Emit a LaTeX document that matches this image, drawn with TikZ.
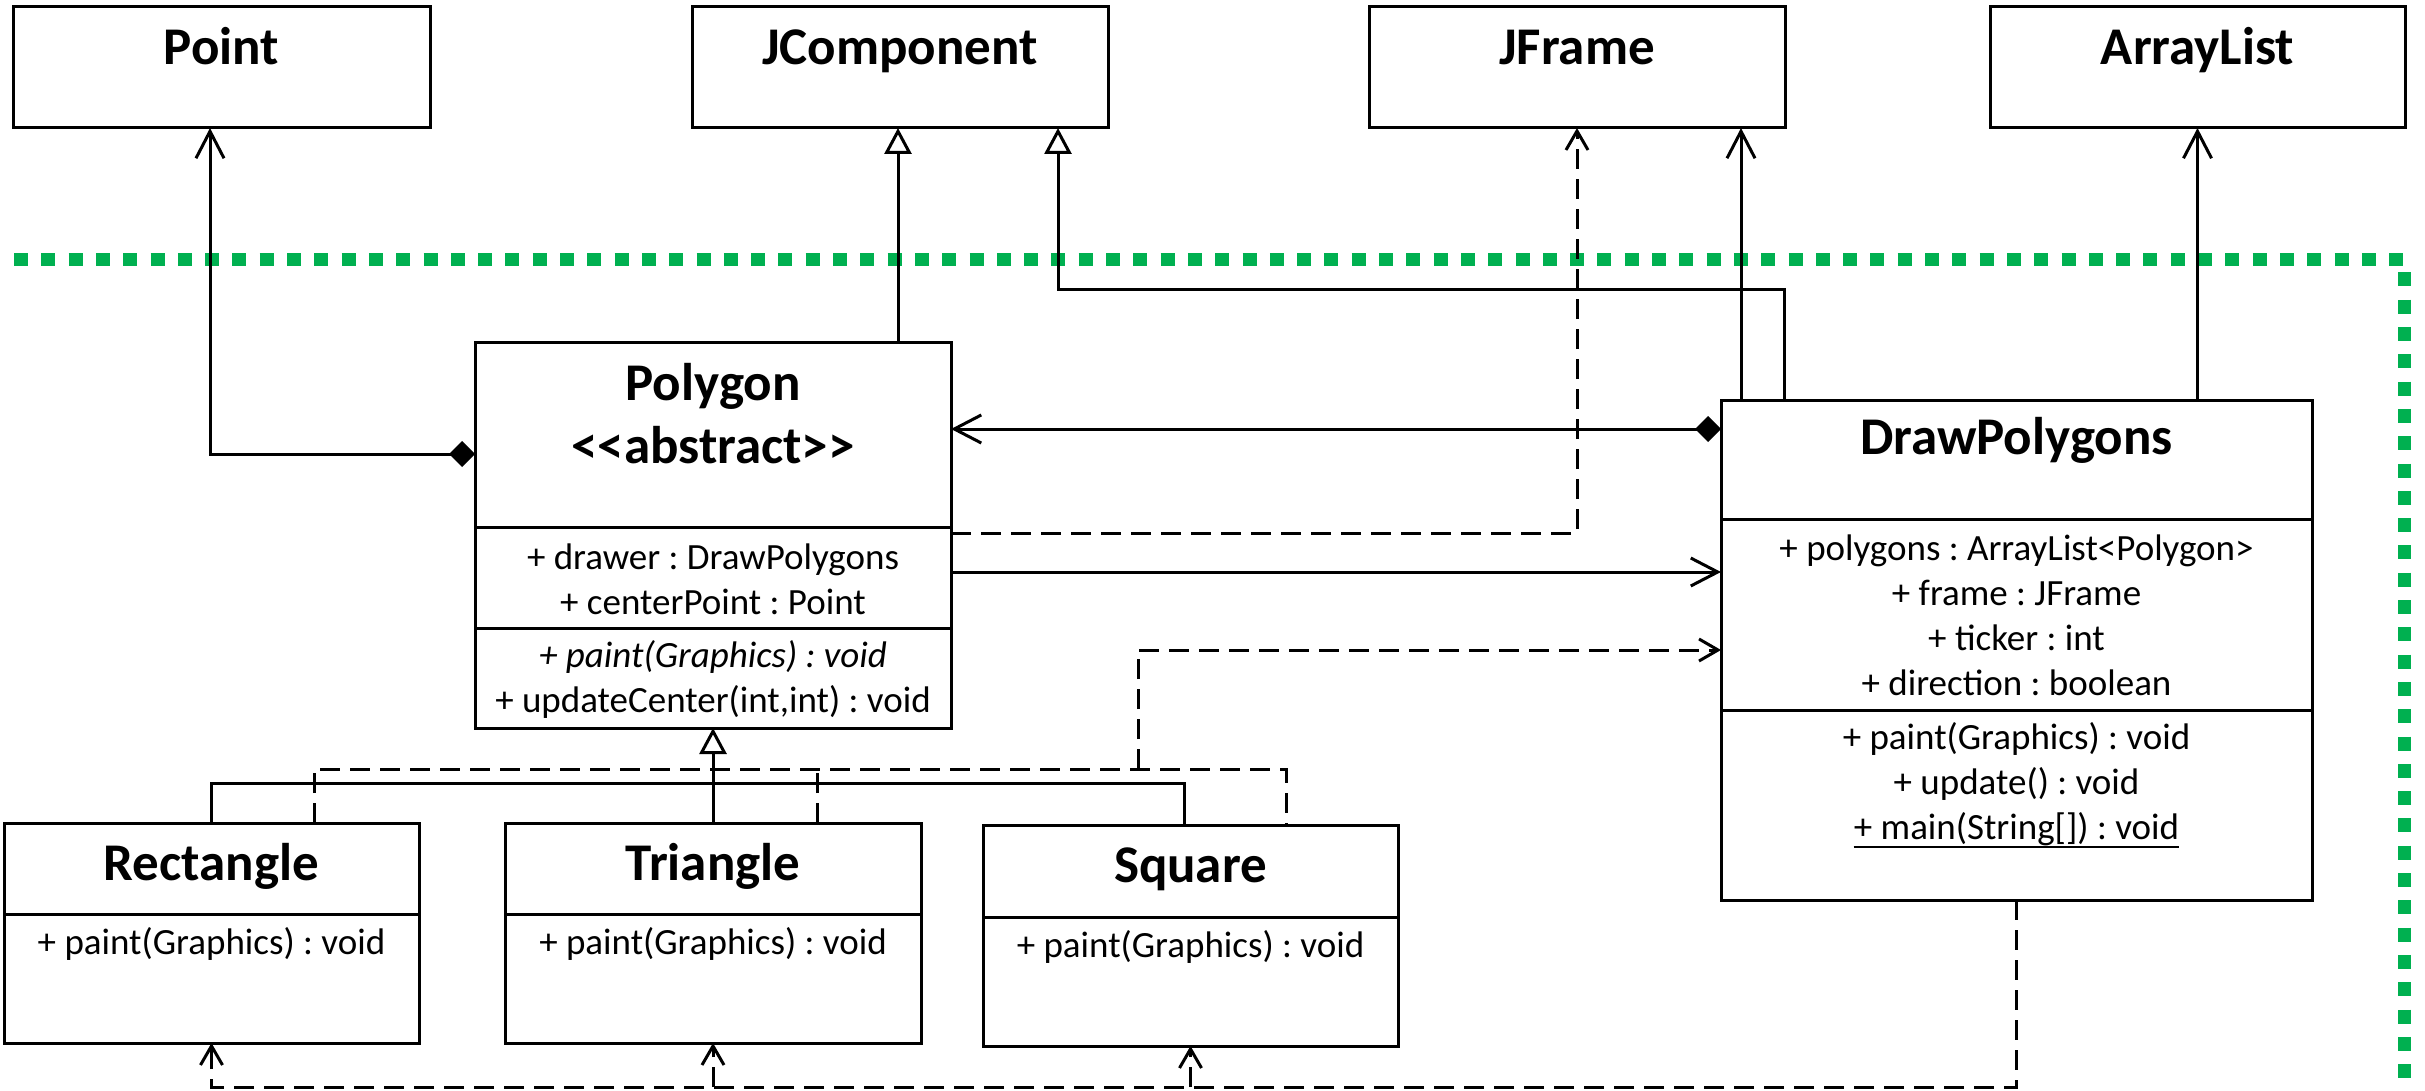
\documentclass[tikz,border=0pt]{standalone}
\usepackage{fontspec}
\setmainfont{Carlito}
\usetikzlibrary{arrows.meta}
\definecolor{grn}{HTML}{00B050}
\newcommand\ttlfont{\fontsize{53}{64}\selectfont\bfseries}
\newcommand\attfont{\fontsize{37}{45}\selectfont}
\frenchspacing
\begin{document}
\begin{tikzpicture}[x=1pt,y=-1pt,
 box/.style={draw, line width=3pt, anchor=north west, inner sep=0pt, outer sep=0pt},
 ttl/.style={anchor=base, inner sep=0pt, font=\ttlfont},
 att/.style={anchor=base, inner sep=0pt, font=\attfont},
 conn/.style={line width=3pt},
 sepline/.style={line width=3pt},
 dep/.style={line width=3pt, dash pattern=on 20pt off 10pt},
 ar/.style={-{Straight Barb[length=27pt,width=28pt]}},
 dar/.style={-{Straight Barb[length=19pt,width=22pt]}},
 genar/.style={-{Triangle[fill=white,length=26pt,width=27pt]}},
 comparr/.style={{Diamond[length=26pt,width=26pt]}-{Straight Barb[length=27pt,width=28pt]}}
]
\useasboundingbox (0,0) rectangle (2425,1091);

% package boundary
\coordinate (g1) at (14,260);
\coordinate (g2) at (2404,260);
\coordinate (g3) at (2404,1085);
\draw[grn, line width=13pt, dash pattern=on 14pt off 13.3pt] (g1) -- (g2) -- (g3);

% boxes
\node[box, minimum width=417pt, minimum height=121pt] (point) at (13,7) {};
\node[box, minimum width=416pt, minimum height=121pt] (jcomp) at (692,7) {};
\node[box, minimum width=416pt, minimum height=121pt] (jframe) at (1369,7) {};
\node[box, minimum width=415pt, minimum height=121pt] (alist) at (1990,7) {};
\node[box, minimum width=476pt, minimum height=386pt] (poly) at (475,342) {};
\node[box, minimum width=591pt, minimum height=500pt] (dp) at (1721,400) {};
\node[box, minimum width=415pt, minimum height=220pt] (rect) at (4,823) {};
\node[box, minimum width=416pt, minimum height=220pt] (tri) at (505,823) {};
\node[box, minimum width=415pt, minimum height=221pt] (sq) at (983,825) {};

% separators
\draw[sepline] ([yshift=-185pt]poly.north west) -- ([yshift=-185pt]poly.north east);
\draw[sepline] ([yshift=-286pt]poly.north west) -- ([yshift=-286pt]poly.north east);
\draw[sepline] ([yshift=-119pt]dp.north west) -- ([yshift=-119pt]dp.north east);
\draw[sepline] ([yshift=-310pt]dp.north west) -- ([yshift=-310pt]dp.north east);
\draw[sepline] ([yshift=-91pt]rect.north west) -- ([yshift=-91pt]rect.north east);
\draw[sepline] ([yshift=-91pt]tri.north west) -- ([yshift=-91pt]tri.north east);
\draw[sepline] ([yshift=-92pt]sq.north west) -- ([yshift=-92pt]sq.north east);

% texts
\node[ttl] (pointT) at (221.5,65) {Point};
\node[ttl] (jcompT) at (900,65) {JComponent};
\node[ttl] (jframeT) at (1577,65) {JFrame};
\node[ttl] (alistT) at (2197.5,65) {ArrayList};

\node[ttl] (polyT1) at (713,400) {Polygon};
\node[ttl] (polyT2) at (713,463) {<\kern0pt<abstract>\kern0pt>};
\node[att] (polyA1) at (713,569) {+ drawer : DrawPolygons};
\node[att] (polyA2) at (713,614) {+ centerPoint : Point};
\node[att] (polyM1) at (713,667) {\itshape + paint(Graphics) : void};
\node[att] (polyM2) at (713,712) {+ updateCenter(int,int) : void};

\node[ttl] (dpT) at (2016.5,454) {DrawPolygons};
\node[att] (dpA1) at (2016.5,560) {+ polygons : ArrayList<Polygon>};
\node[att] (dpA2) at (2016.5,605) {+ frame : JFrame};
\node[att] (dpA3) at (2016.5,650) {+ ticker : int};
\node[att] (dpA4) at (2016.5,695) {+ direction : boolean};
\node[att] (dpM1) at (2016.5,749) {+ paint(Graphics) : void};
\node[att] (dpM2) at (2016.5,794) {+ update() : void};
\node[att] (dpM3) at (2016.5,839) {+ main(String[]) : void};
\draw[line width=2.5pt] ([yshift=-8pt]dpM3.base west) -- ([yshift=-8pt]dpM3.base east);

\node[ttl] (rectT) at (211.5,880) {Rectangle};
\node[att] (rectM) at (211.5,954) {+ paint(Graphics) : void};
\node[ttl] (triT) at (713,880) {Triangle};
\node[att] (triM) at (713,954) {+ paint(Graphics) : void};
\node[ttl] (sqT) at (1190.5,882) {Square};
\node[att] (sqM) at (1190.5,957) {+ paint(Graphics) : void};

% Polygon -- Point (composition)
\coordinate (cPt) at (210,454);
\draw[conn, comparr] (poly.west |- cPt) -- (cPt) -- (cPt |- point.south);

% Polygon -> JComponent
\coordinate (cJ1) at (898,0);
\draw[conn, genar] (poly.north -| cJ1) -- (jcomp.south -| cJ1);

% DrawPolygons -> JComponent
\coordinate (cJ2) at (1058,290);
\coordinate (cJ3) at (1784,290);
\draw[conn, genar] (dp.north -| cJ3) -- (cJ3) -- (cJ2) -- (jcomp.south -| cJ2);

% Polygon ..> JFrame
\coordinate (cF1) at (1577,533);
\draw[dep, dar] (poly.east |- cF1) -- (cF1) -- (cF1 |- jframe.south);

% DrawPolygons -> JFrame
\coordinate (cF2) at (1741,0);
\draw[conn, ar] (dp.north -| cF2) -- (jframe.south -| cF2);

% DrawPolygons -> ArrayList
\draw[conn, ar] (dp.north -| alist.south) -- (alist.south);

% DrawPolygons <>-> Polygon
\coordinate (cA) at (0,429);
\draw[conn, comparr] (dp.west |- cA) -- (poly.east |- cA);

% Polygon -> DrawPolygons
\coordinate (cB) at (0,572);
\draw[conn, ar] (poly.east |- cB) -- (dp.west |- cB);

% generalization
\coordinate (cG) at (0,783);
\coordinate (cSq) at (1184,0);
\draw[conn] (rect.north) |- (cG -| cSq) -- (sq.north -| cSq);
\draw[conn, genar] (tri.north) -- (poly.south);

% subclasses ..> DrawPolygons
\coordinate (cD) at (1138,769);
\coordinate (cR) at (314,0);
\coordinate (cT) at (817,0);
\coordinate (cS) at (1286,0);
\coordinate (cE) at (0,650);
\draw[dep] (rect.north -| cR) -- (cR |- cD) -- (cS |- cD) -- (sq.north -| cS);
\draw[dep] (tri.north -| cT) -- (cT |- cD);
\draw[dep, dar] (cD) |- (dp.west |- cE);

% DrawPolygons ..> subclasses
\coordinate (cBot) at (0,1087);
\draw[dep, dar] (dp.south) |- (rect.south |- cBot) -- (rect.south);
\draw[dep, dar] (tri.south |- cBot) -- (tri.south);
\draw[dep, dar] (sq.south |- cBot) -- (sq.south);
\end{tikzpicture}
\end{document}
